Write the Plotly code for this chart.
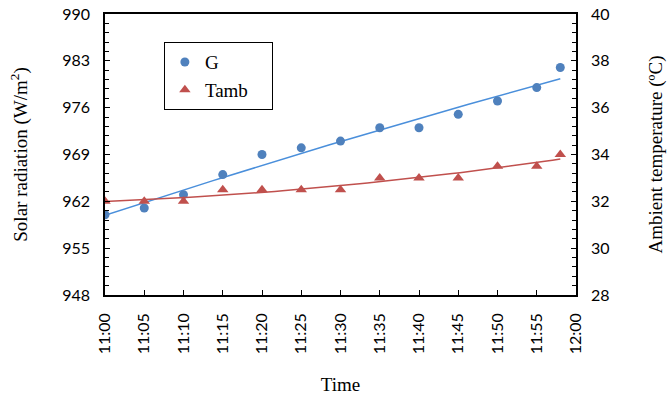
import numpy as np
import plotly.graph_objects as go

minutes = [0, 5, 10, 15, 20, 25, 30, 35, 40, 45, 50, 55, 58]
G = [960, 961, 963, 966, 969, 970, 971, 973, 973, 975, 977, 979, 982]
Tamb = [32, 32, 32, 32.5, 32.5, 32.5, 32.5, 33, 33, 33, 33.5, 33.5, 34]
tick_minutes = [0, 5, 10, 15, 20, 25, 30, 35, 40, 45, 50, 55, 60]
tick_labels = ["11:00", "11:05", "11:10", "11:15", "11:20", "11:25", "11:30",
               "11:35", "11:40", "11:45", "11:50", "11:55", "12:00"]

x = np.array(minutes, dtype=float)
xl = np.linspace(x.min(), x.max(), 60)
cg = np.polyfit(x, G, 2)
ct = np.polyfit(x, Tamb, 2)

blue = "#4F81BD"
blue_line = "#4A8FDB"
red = "#C0504D"
red_line = "#C0504D"

fig = go.Figure()
fig.add_trace(go.Scatter(x=xl, y=np.polyval(cg, xl), mode="lines",
                         line=dict(color=blue_line, width=1.5), showlegend=False))
fig.add_trace(go.Scatter(x=xl, y=np.polyval(ct, xl), mode="lines", yaxis="y2",
                         line=dict(color=red_line, width=1.5), showlegend=False))
fig.add_trace(go.Scatter(x=minutes, y=G, mode="markers", name="G",
                         marker=dict(symbol="circle", size=9, color=blue)))
fig.add_trace(go.Scatter(x=minutes, y=Tamb, mode="markers", name="Tamb    ", yaxis="y2",
                         marker=dict(symbol="triangle-up", size=10, color=red)))

tickfont = dict(family="Lato, Liberation Sans, sans-serif", size=16, color="#000")
titlefont = dict(family="Liberation Serif, serif", size=19, color="#000")

fig.update_layout(
    width=667, height=399,
    margin=dict(l=105, r=91, t=14, b=104),
    plot_bgcolor="white", paper_bgcolor="white",
    showlegend=True,
    legend=dict(x=0.125, y=0.9, xanchor="left", yanchor="top",
                bordercolor="#000", borderwidth=1, bgcolor="white",
                font=dict(family="Liberation Serif, serif", size=19, color="#000"),
                itemsizing="trace", tracegroupgap=0),
    xaxis=dict(range=[0, 60], tickvals=tick_minutes, ticktext=tick_labels,
               tickangle=-90, tickfont=tickfont, ticks="inside", ticklen=5,
               ticklabelstandoff=10, automargin=False,
               tickcolor="#000", showline=True, linecolor="#000", linewidth=1.5,
               mirror=True, showgrid=False, zeroline=False,
               title=dict(text="Time", font=titlefont, standoff=24)),
    yaxis=dict(range=[948, 990], tickvals=[948, 955, 962, 969, 976, 983, 990],
               tickfont=tickfont, ticks="inside", ticklen=5, tickcolor="#000",
               ticklabelstandoff=10, automargin=False,
               minor=dict(dtick=1.4, tick0=948, ticks="inside", ticklen=4, tickcolor="#000"),
               showline=True, linecolor="#000", linewidth=1.5, showgrid=False,
               zeroline=False,
               title=dict(text="Solar radiation (W/m<sup>2</sup>)", font=titlefont, standoff=30)),
    yaxis2=dict(range=[28, 40], tickvals=[28, 30, 32, 34, 36, 38, 40],
                overlaying="y", side="right",
                tickfont=tickfont, ticks="inside", ticklen=5, tickcolor="#000",
                ticklabelstandoff=10, automargin=False,
                minor=dict(dtick=0.4, tick0=28, ticks="inside", ticklen=4, tickcolor="#000"),
                showline=True, linecolor="#000", linewidth=1.5, showgrid=False,
                zeroline=False,
                title=dict(text="Ambient temperature (ºC)", font=titlefont, standoff=40)),
)

fig.write_html("out.html")
